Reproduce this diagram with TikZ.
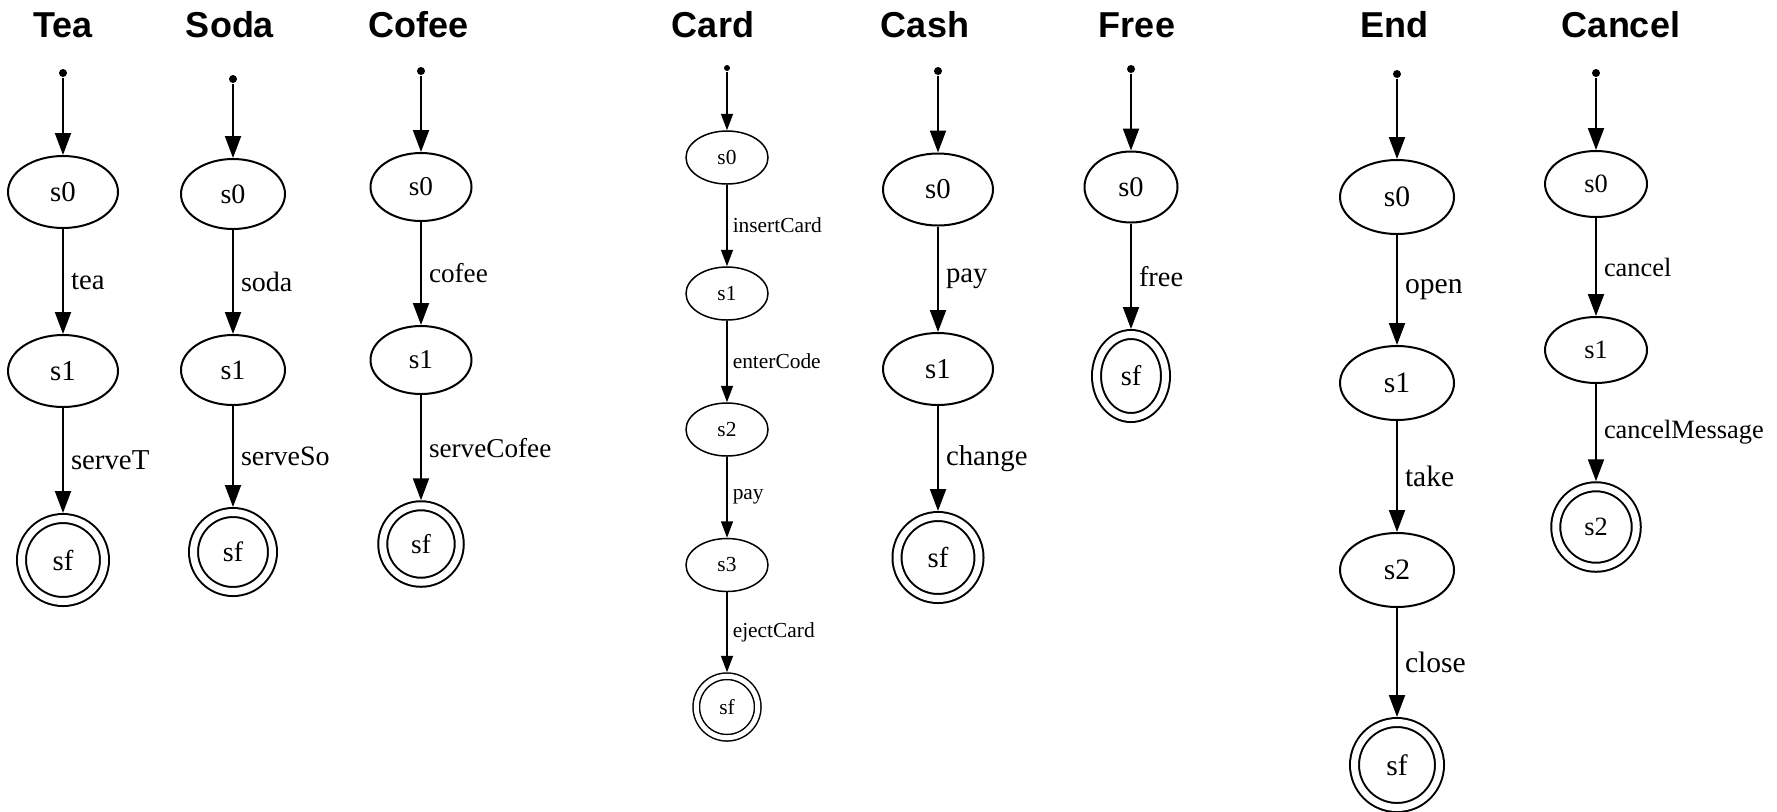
\documentclass[tikz,border=0pt]{standalone}
\usepackage{fontspec}
\setmainfont{Liberation Serif}
\setsansfont{Liberation Sans}
\usetikzlibrary{shapes.geometric,arrows.meta}

\tikzset{
	state/.style={ellipse, draw, inner sep=0pt},
	final/.style={circle, draw, double, double distance=3.5pt, inner sep=0pt, outer sep=2.75pt},
	start/.style={circle, fill, inner sep=0pt, minimum size=4pt},
	trans/.style={-{Triangle[length=11pt,width=8pt,scale=#1]}, line width=#1pt},
	trans/.default=1,
	lbl/.style={anchor=west, inner sep=0pt, xshift=3.5pt},
	machine/.style={font=\sffamily\bfseries\fontsize{18}{21}\selectfont, anchor=base}
}

\begin{document}
\begin{tikzpicture}[x=0.5pt, y=-0.5pt, line width=1pt]
			\useasboundingbox (0,0) rectangle (1777,811);
			
			% Tea
			\begin{scope}[font=\fontsize{14.4}{17}\selectfont, state/.append style={minimum width=55pt, minimum height=36pt}]
			\node[machine] (teaT) at (63,37) {Tea};
			\node[start] (teaI) at (63,73) {};
			\node[state] (tea0) at (63,192) {s0};
			\node[state] (tea1) at (63,371) {s1};
			\node[final, minimum size=41.5pt] (teaF) at (63,560) {sf};
			\draw[trans] (teaI) -- (tea0);
			\draw[trans] (tea0) -- node[lbl] (teaL1) {tea} (tea1);
			\draw[trans] (tea1) -- node[lbl] (teaL2) {serveT} (teaF);
			\end{scope}
			
			% Soda
			\begin{scope}[font=\fontsize{14}{17}\selectfont, state/.append style={minimum width=52pt, minimum height=35pt}]
			\node[machine] (sodaT) at (230,37) {Soda};
			\node[start] (sodaI) at (233,79) {};
			\node[state] (soda0) at (233,194) {s0};
			\node[state] (soda1) at (233,370) {s1};
			\node[final, minimum size=39.5pt] (sodaF) at (233,552) {sf};
			\draw[trans] (sodaI) -- (soda0);
			\draw[trans] (soda0) -- node[lbl] (sodaL1) {soda} (soda1);
			\draw[trans] (soda1) -- node[lbl] (sodaL2) {serveSo} (sodaF);
			\end{scope}
			
			% Cofee
			\begin{scope}[font=\fontsize{13.6}{16}\selectfont, state/.append style={minimum width=50.5pt, minimum height=34pt}]
			\node[machine] (cofeeT) at (419,37) {Cofee};
			\node[start] (cofeeI) at (421,71) {};
			\node[state] (cofee0) at (421,187) {s0};
			\node[state] (cofee1) at (421,360) {s1};
			\node[final, minimum size=38.25pt] (cofeeF) at (421,544) {sf};
			\draw[trans] (cofeeI) -- (cofee0);
			\draw[trans] (cofee0) -- node[lbl] (cofeeL1) {cofee} (cofee1);
			\draw[trans] (cofee1) -- node[lbl] (cofeeL2) {serveCofee} (cofeeF);
			\end{scope}
			
			% Card
			\begin{scope}[line width=0.75pt, font=\fontsize{10.7}{13}\selectfont, state/.append style={minimum width=41pt, minimum height=26.5pt}]
			\node[machine] (cardT) at (713,37) {Card};
			\node[start, minimum size=3pt] (cardI) at (727,68) {};
			\node[state] (card0) at (727,157.5) {s0};
			\node[state] (card1) at (727,293.5) {s1};
			\node[state] (card2) at (727,429.5) {s2};
			\node[state] (card3) at (727,565) {s3};
			\node[final, minimum size=30.75pt, double distance=2.5pt, outer sep=2pt] (cardF) at (727,707) {sf};
			\draw[trans=0.75] (cardI) -- (card0);
			\draw[trans=0.75] (card0) -- node[lbl, xshift=-1pt] (cardL1) {insertCard} (card1);
			\draw[trans=0.75] (card1) -- node[lbl, xshift=-1pt] (cardL2) {enterCode} (card2);
			\draw[trans=0.75] (card2) -- node[lbl, xshift=-1pt] (cardL3) {pay} (card3);
			\draw[trans=0.75] (card3) -- node[lbl, xshift=-1pt] (cardL4) {ejectCard} (cardF);
			\end{scope}
			
			% Cash
			\begin{scope}[font=\fontsize{14.4}{17}\selectfont, state/.append style={minimum width=55pt, minimum height=36pt}]
			\node[machine] (cashT) at (925,37) {Cash};
			\node[start] (cashI) at (938,71) {};
			\node[state] (cash0) at (938,189.5) {s0};
			\node[state] (cash1) at (938,369) {s1};
			\node[final, minimum size=41pt] (cashF) at (938,557.5) {sf};
			\draw[trans] (cashI) -- (cash0);
			\draw[trans] (cash0) -- node[lbl] (cashL1) {pay} (cash1);
			\draw[trans] (cash1) -- node[lbl] (cashL2) {change} (cashF);
			\end{scope}
			
			% Free
			\begin{scope}[font=\fontsize{14.2}{17}\selectfont, state/.append style={minimum width=46.5pt, minimum height=35.5pt}]
			\node[machine] (freeT) at (1137,37) {Free};
			\node[start] (freeI) at (1131,69) {};
			\node[state] (free0) at (1131,187) {s0};
			\node[final, ellipse, minimum width=34.5pt, minimum height=41.5pt] (freeF) at (1131,376) {sf};
			\draw[trans] (freeI) -- (free0);
			\draw[trans] (free0) -- node[lbl] (freeL1) {free} (freeF);
			\end{scope}
			
			% End
			\begin{scope}[font=\fontsize{14.8}{18}\selectfont, state/.append style={minimum width=57pt, minimum height=37pt}]
			\node[machine] (endT) at (1394,37) {End};
			\node[start] (endI) at (1397,74) {};
			\node[state] (end0) at (1397,197) {s0};
			\node[state] (end1) at (1397,383) {s1};
			\node[state] (end2) at (1397,570) {s2};
			\node[final, minimum size=42.5pt] (endF) at (1397,765) {sf};
			\draw[trans] (endI) -- (end0);
			\draw[trans] (end0) -- node[lbl] (endL1) {open} (end1);
			\draw[trans] (end1) -- node[lbl] (endL2) {take} (end2);
			\draw[trans] (end2) -- node[lbl] (endL3) {close} (endF);
			\end{scope}
			
			% Cancel
			\begin{scope}[font=\fontsize{13.2}{16}\selectfont, state/.append style={minimum width=51pt, minimum height=33pt}]
			\node[machine] (cancelT) at (1621,37) {Cancel};
			\node[start] (cancelI) at (1596,73) {};
			\node[state] (cancel0) at (1596,184) {s0};
			\node[state] (cancel1) at (1596,350) {s1};
			\node[final, minimum size=40.25pt] (cancelF) at (1596,527) {s2};
			\draw[trans] (cancelI) -- (cancel0);
			\draw[trans] (cancel0) -- node[lbl] (cancelL1) {cancel} (cancel1);
			\draw[trans] (cancel1) -- node[lbl] (cancelL2) {cancelMessage} (cancelF);
			\end{scope}
\end{tikzpicture}
\end{document}
